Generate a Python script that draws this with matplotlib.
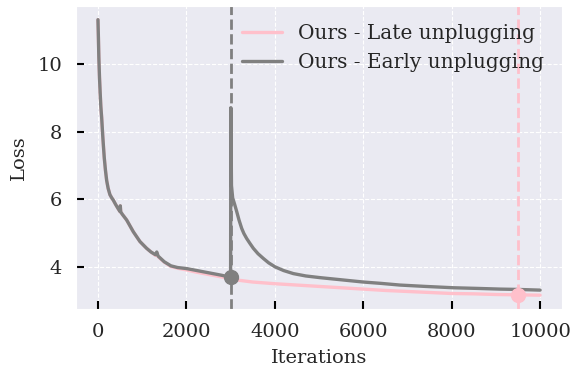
import matplotlib
matplotlib.use("Agg")
import matplotlib.pyplot as plt
import seaborn as sns

# Loss curves (iteration, loss)
late_iters = [0, 10, 20, 35, 50, 65, 84, 106, 125, 143, 170, 197, 230, 271, 310,
              346, 400, 459, 498, 505, 515, 550, 649, 800, 950, 1100, 1200, 1300,
              1330, 1360, 1500, 1650, 1800, 2000, 2200, 2400, 2600, 2800, 3000,
              3200, 3500, 4000, 4500, 5000, 5500, 6000, 6500, 7000, 7500, 8000,
              8500, 9000, 9500, 10000]
late_loss = [11.32, 10.8, 10.2, 9.6, 9.15, 8.75, 8.41, 7.92, 7.55, 7.22, 6.85,
             6.55, 6.32, 6.13, 6.04, 5.97, 5.84, 5.71, 5.63, 5.80, 5.62, 5.55,
             5.38, 5.03, 4.74, 4.54, 4.43, 4.33, 4.41, 4.29, 4.13, 4.00, 3.95,
             3.90, 3.84, 3.79, 3.74, 3.69, 3.64, 3.59, 3.54, 3.49, 3.45, 3.41,
             3.37, 3.33, 3.29, 3.26, 3.23, 3.20, 3.19, 3.17, 3.16, 3.15]

early_iters = [0, 10, 20, 35, 50, 65, 84, 106, 125, 143, 170, 197, 230, 271, 310,
               346, 400, 459, 498, 505, 515, 550, 649, 800, 950, 1100, 1200, 1300,
               1330, 1360, 1500, 1650, 1800, 2000, 2200, 2400, 2600, 2800, 3000,
               3005, 3020, 3047, 3090, 3138, 3190, 3251, 3300, 3364, 3440, 3514,
               3620, 3740, 3860, 4005, 4200, 4419, 4700, 5023, 5475, 6000, 6400,
               6830, 7400, 8040, 8600, 9100, 9500, 10000]
early_loss = [11.32, 10.8, 10.2, 9.6, 9.15, 8.75, 8.41, 7.92, 7.55, 7.22, 6.85,
              6.55, 6.32, 6.13, 6.04, 5.97, 5.84, 5.71, 5.63, 5.80, 5.62, 5.55,
              5.38, 5.03, 4.74, 4.54, 4.43, 4.35, 4.43, 4.31, 4.14, 4.02, 3.97,
              3.94, 3.89, 3.84, 3.79, 3.74, 3.68, 8.71, 6.4, 6.03, 5.85, 5.63,
              5.38, 5.13, 4.98, 4.83, 4.68, 4.54, 4.38, 4.24, 4.11, 3.99, 3.88,
              3.79, 3.72, 3.67, 3.61, 3.54, 3.50, 3.45, 3.41, 3.37, 3.35, 3.33,
              3.32, 3.30]

unplug_iters = [9500, 3000]
unplug_loss = [3.16, 3.68]
labels = ['Ours - Late unplugging', 'Ours - Early unplugging']
colors = ['pink', 'gray']

sns.set_style("darkgrid", {"grid.linestyle": "--"})
plt.rcParams['font.family'] = ['DejaVu Serif']
plt.rcParams['font.size'] = 14

fig, ax = plt.subplots(figsize=(5.79, 3.70), dpi=100)
fig.subplots_adjust(left=0.131, right=0.971, top=0.984, bottom=0.165)

ax.plot(late_iters, late_loss, color=colors[0], lw=2.4, label=labels[0])
ax.plot(early_iters, early_loss, color=colors[1], lw=2.4, label=labels[1])

# Unplugging points: dashed marker line plus a dot
for it, loss, c in zip(unplug_iters, unplug_loss, colors):
    ax.axvline(it, color=c, ls='--', lw=2)
    ax.plot(it, loss, 'o', color=c, ms=10)

ax.set_xlabel('Iterations', fontsize=14, labelpad=6)
ax.set_ylabel('Loss', fontsize=14, labelpad=7)
ax.set_xticks([0, 2000, 4000, 6000, 8000, 10000])
ax.set_yticks([4, 6, 8, 10])
ax.tick_params(axis='both', which='major', direction='in', length=6,
               width=1.5, color='black', bottom=True, left=True,
               pad=10, labelsize=14, labelcolor='#262626')
ax.legend(loc='upper right', frameon=False, fontsize=14.5, borderaxespad=0.5)

fig.savefig('out.png', dpi=100)
